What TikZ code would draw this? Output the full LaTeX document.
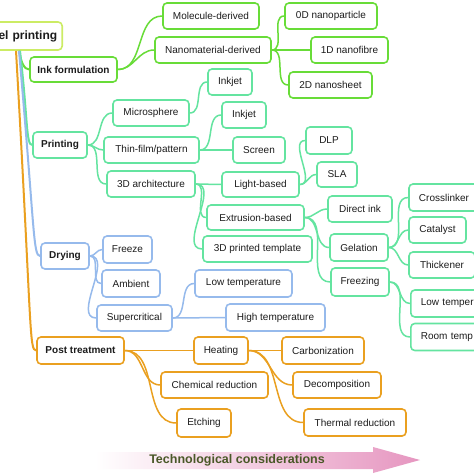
\documentclass[tikz,border=0pt]{standalone}
\usepackage{fontspec}
\setmainfont{Liberation Sans}
\definecolor{inkc}{RGB}{104,220,56}
\definecolor{prc}{RGB}{100,228,160}
\definecolor{dryc}{RGB}{150,186,236}
\definecolor{postc}{RGB}{234,160,32}
\definecolor{rootc}{RGB}{204,236,100}
\definecolor{txt}{RGB}{28,28,28}
\definecolor{arrowc}{RGB}{230,150,192}
\definecolor{techc}{RGB}{74,88,40}
\tikzset{
  box/.style={draw, rounded corners=4pt, line width=1.6pt, fill=white, minimum height=26pt, inner sep=0pt, font=\fontsize{10}{12}\selectfont, text=txt},
  ibox/.style={box, draw=inkc},
  pbox/.style={box, draw=prc},
  dbox/.style={box, draw=dryc},
  tbox/.style={box, draw=postc},
  hd/.style={font=\bfseries\fontsize{10}{12}\selectfont},
  rootbox/.style={box, draw=rootc, font=\bfseries\fontsize{12}{14}\selectfont},
  ilink/.style={draw=inkc, line width=1.5pt},
  plink/.style={draw=prc, line width=1.5pt},
  dlink/.style={draw=dryc, line width=1.5pt},
  tlink/.style={draw=postc, line width=1.5pt},
  trunk/.style={line width=2pt}
}
\begin{document}
\begin{tikzpicture}[x=1pt,y=-1pt]
\clip (0,0) rectangle (474,474);
\fill[white] (0,0) rectangle (474,474);

% root
\node[rootbox, anchor=east, text width=70pt, align=right, inner xsep=5pt, minimum height=28pt] (root) at (63,36) {el printing};

% level 1
\node[ibox, hd, minimum width=87pt, minimum height=25pt] (ink) at (73.5,69.5) {Ink formulation};
\node[pbox, hd, minimum width=54pt] (print) at (60,145) {Printing};
\node[dbox, hd, minimum width=48pt] (dry) at (65,256) {Drying};
\node[tbox, hd, minimum width=87pt, minimum height=27pt] (post) at (80.5,350.5) {Post treatment};

% ink formulation
\node[ibox, minimum width=96pt] (mol) at (211,16) {Molecule-derived};
\node[ibox, minimum width=116pt] (nano) at (213,50) {Nanomaterial-derived};
\node[ibox, minimum width=92pt] (zd) at (331,16) {0D nanoparticle};
\node[ibox, minimum width=77pt] (od) at (349.5,50) {1D nanofibre};
\node[ibox, minimum width=83pt] (td) at (330.5,85) {2D nanosheet};

% printing
\node[pbox, minimum width=76pt] (micro) at (151,113) {Microsphere};
\node[pbox, minimum width=95pt] (thin) at (151.5,150) {Thin-film/pattern};
\node[pbox, minimum width=88pt] (arch) at (151,184) {3D architecture};
\node[pbox, minimum width=44pt] (inkj) at (230,82) {Inkjet};
\node[pbox, minimum width=44pt] (inkjb) at (244,115) {Inkjet};
\node[pbox, minimum width=52pt] (screen) at (259,150) {Screen};
\node[pbox, minimum width=77pt, minimum height=25pt] (light) at (260.5,184.5) {Light-based};
\node[pbox, minimum width=97pt, minimum height=25pt] (extr) at (255.5,217.5) {Extrusion-based};
\node[pbox, minimum width=109pt] (tmpl) at (257.5,249) {3D printed template};
\node[pbox, minimum width=46pt, minimum height=27pt] (dlp) at (329,140.5) {DLP};
\node[pbox, minimum width=40pt, minimum height=25pt] (sla) at (337,174.5) {SLA};
\node[pbox, minimum width=64pt] (direct) at (360,209) {Direct ink};
\node[pbox, minimum width=58pt, minimum height=27pt] (gel) at (359,247.5) {Gelation};
\node[pbox, minimum width=58pt, minimum height=28pt] (frz) at (360,282) {Freezing};
\node[pbox, minimum width=70pt, minimum height=27pt] (cross) at (444,197.5) {Crosslinker};
\node[pbox, minimum width=57pt] (cat) at (437.5,230) {Catalyst};
\node[pbox, minimum width=66pt] (thick) at (442,265) {Thickener};
\node[pbox, anchor=west, text width=70pt, align=left, inner xsep=10pt, minimum height=27pt] (lowt) at (410,303.5) {Low temper};
\node[pbox, anchor=west, text width=70pt, align=left, inner xsep=10pt, minimum height=27pt] (roomt) at (410,337) {Room temp};

% drying
\node[dbox, minimum width=49pt, minimum height=27pt] (freeze) at (127.5,249.5) {Freeze};
\node[dbox, minimum width=58pt, minimum height=27pt] (amb) at (131,283.5) {Ambient};
\node[dbox, minimum width=75pt] (super) at (134.5,318) {Supercritical};
\node[dbox, minimum width=97pt, minimum height=27pt] (lowtemp) at (243.5,283.5) {Low temperature};
\node[dbox, minimum width=99pt, minimum height=27pt] (hight) at (275.5,317.5) {High temperature};

% post treatment
\node[tbox, minimum width=54pt, minimum height=27pt] (heat) at (221,350.5) {Heating};
\node[tbox, minimum width=107pt] (chem) at (214.5,385) {Chemical reduction};
\node[tbox, minimum width=54pt, minimum height=28pt] (etch) at (204,423) {Etching};
\node[tbox, minimum width=82pt, minimum height=27pt] (carb) at (323,350.5) {Carbonization};
\node[tbox, minimum width=88pt] (decomp) at (337,385) {Decomposition};
\node[tbox, minimum width=102pt, minimum height=27pt] (therm) at (355,422.5) {Thermal reduction};

% trunk connectors
\draw[ilink, trunk] ([xshift=-44pt]root.south east) .. controls (21,62) and (24,69.5) .. (ink.west);
\draw[plink, trunk] ([xshift=-43pt]root.south east) .. controls (28,120) and (26,145) .. (print.west);
\draw[dlink, trunk] ([xshift=-44pt]root.south east) .. controls (35,232) and (33,256) .. (dry.west);
\draw[tlink, trunk] ([xshift=-47pt]root.south east) .. controls (32,330) and (29,350.5) .. (post.west);

% ink links
\draw[ilink] (ink.east) to[out=0,in=180] (mol.west);
\draw[ilink] (ink.east) to[out=0,in=180] (nano.west);
\draw[ilink] (nano.east) to[out=0,in=180] (zd.west);
\draw[ilink] (nano.east) -- (od.west);
\draw[ilink] (nano.east) to[out=0,in=180] (td.west);

% printing links
\draw[plink] (print.east) to[out=0,in=180] (micro.west);
\draw[plink] (print.east) to[out=0,in=180] (thin.west);
\draw[plink] (print.east) to[out=0,in=180] (arch.west);
\draw[plink] (micro.east) to[out=0,in=180] (inkj.west);
\draw[plink] (thin.east) to[out=0,in=180] (inkjb.west);
\draw[plink] (thin.east) -- (screen.west);
\draw[plink] (arch.east) -- (light.west);
\draw[plink] (arch.east) to[out=0,in=180] (extr.west);
\draw[plink] (arch.east) to[out=0,in=180] (tmpl.west);
\draw[plink] (light.east) to[out=0,in=180] (dlp.west);
\draw[plink] (light.east) to[out=0,in=180] (sla.west);
\draw[plink] (extr.east) to[out=0,in=180] (direct.west);
\draw[plink] (extr.east) to[out=0,in=180] (gel.west);
\draw[plink] (extr.east) to[out=0,in=180] (frz.west);
\draw[plink] (gel.east) to[out=0,in=180] (cross.west);
\draw[plink] (gel.east) to[out=0,in=180] (cat.west);
\draw[plink] (gel.east) to[out=0,in=180] (thick.west);
\draw[plink] (frz.east) to[out=0,in=180] (lowt.west);
\draw[plink] (frz.east) to[out=0,in=180] (roomt.west);

% drying links
\draw[dlink] (dry.east) to[out=0,in=180] (freeze.west);
\draw[dlink] (dry.east) to[out=0,in=180] (amb.west);
\draw[dlink] (dry.east) to[out=0,in=180] (super.west);
\draw[dlink] (super.east) to[out=0,in=180] (lowtemp.west);
\draw[dlink] (super.east) -- (hight.west);

% post links
\draw[tlink] (post.east) -- (heat.west);
\draw[tlink] (post.east) to[out=0,in=180] (chem.west);
\draw[tlink] (post.east) to[out=0,in=180] (etch.west);
\draw[tlink] (heat.east) -- (carb.west);
\draw[tlink] (heat.east) to[out=0,in=180] (decomp.west);
\draw[tlink] (heat.east) to[out=0,in=180] (therm.west);

% arrow
\shade[left color=white, right color=arrowc] (95,452) -- (373,452) -- (373,447) -- (420,460) -- (373,473) -- (373,469) -- (95,469) -- cycle;
\node[font=\bfseries\fontsize{12.5}{14}\selectfont, text=techc] (tech) at (237,460.5) {Technological considerations};
\end{tikzpicture}
\end{document}
